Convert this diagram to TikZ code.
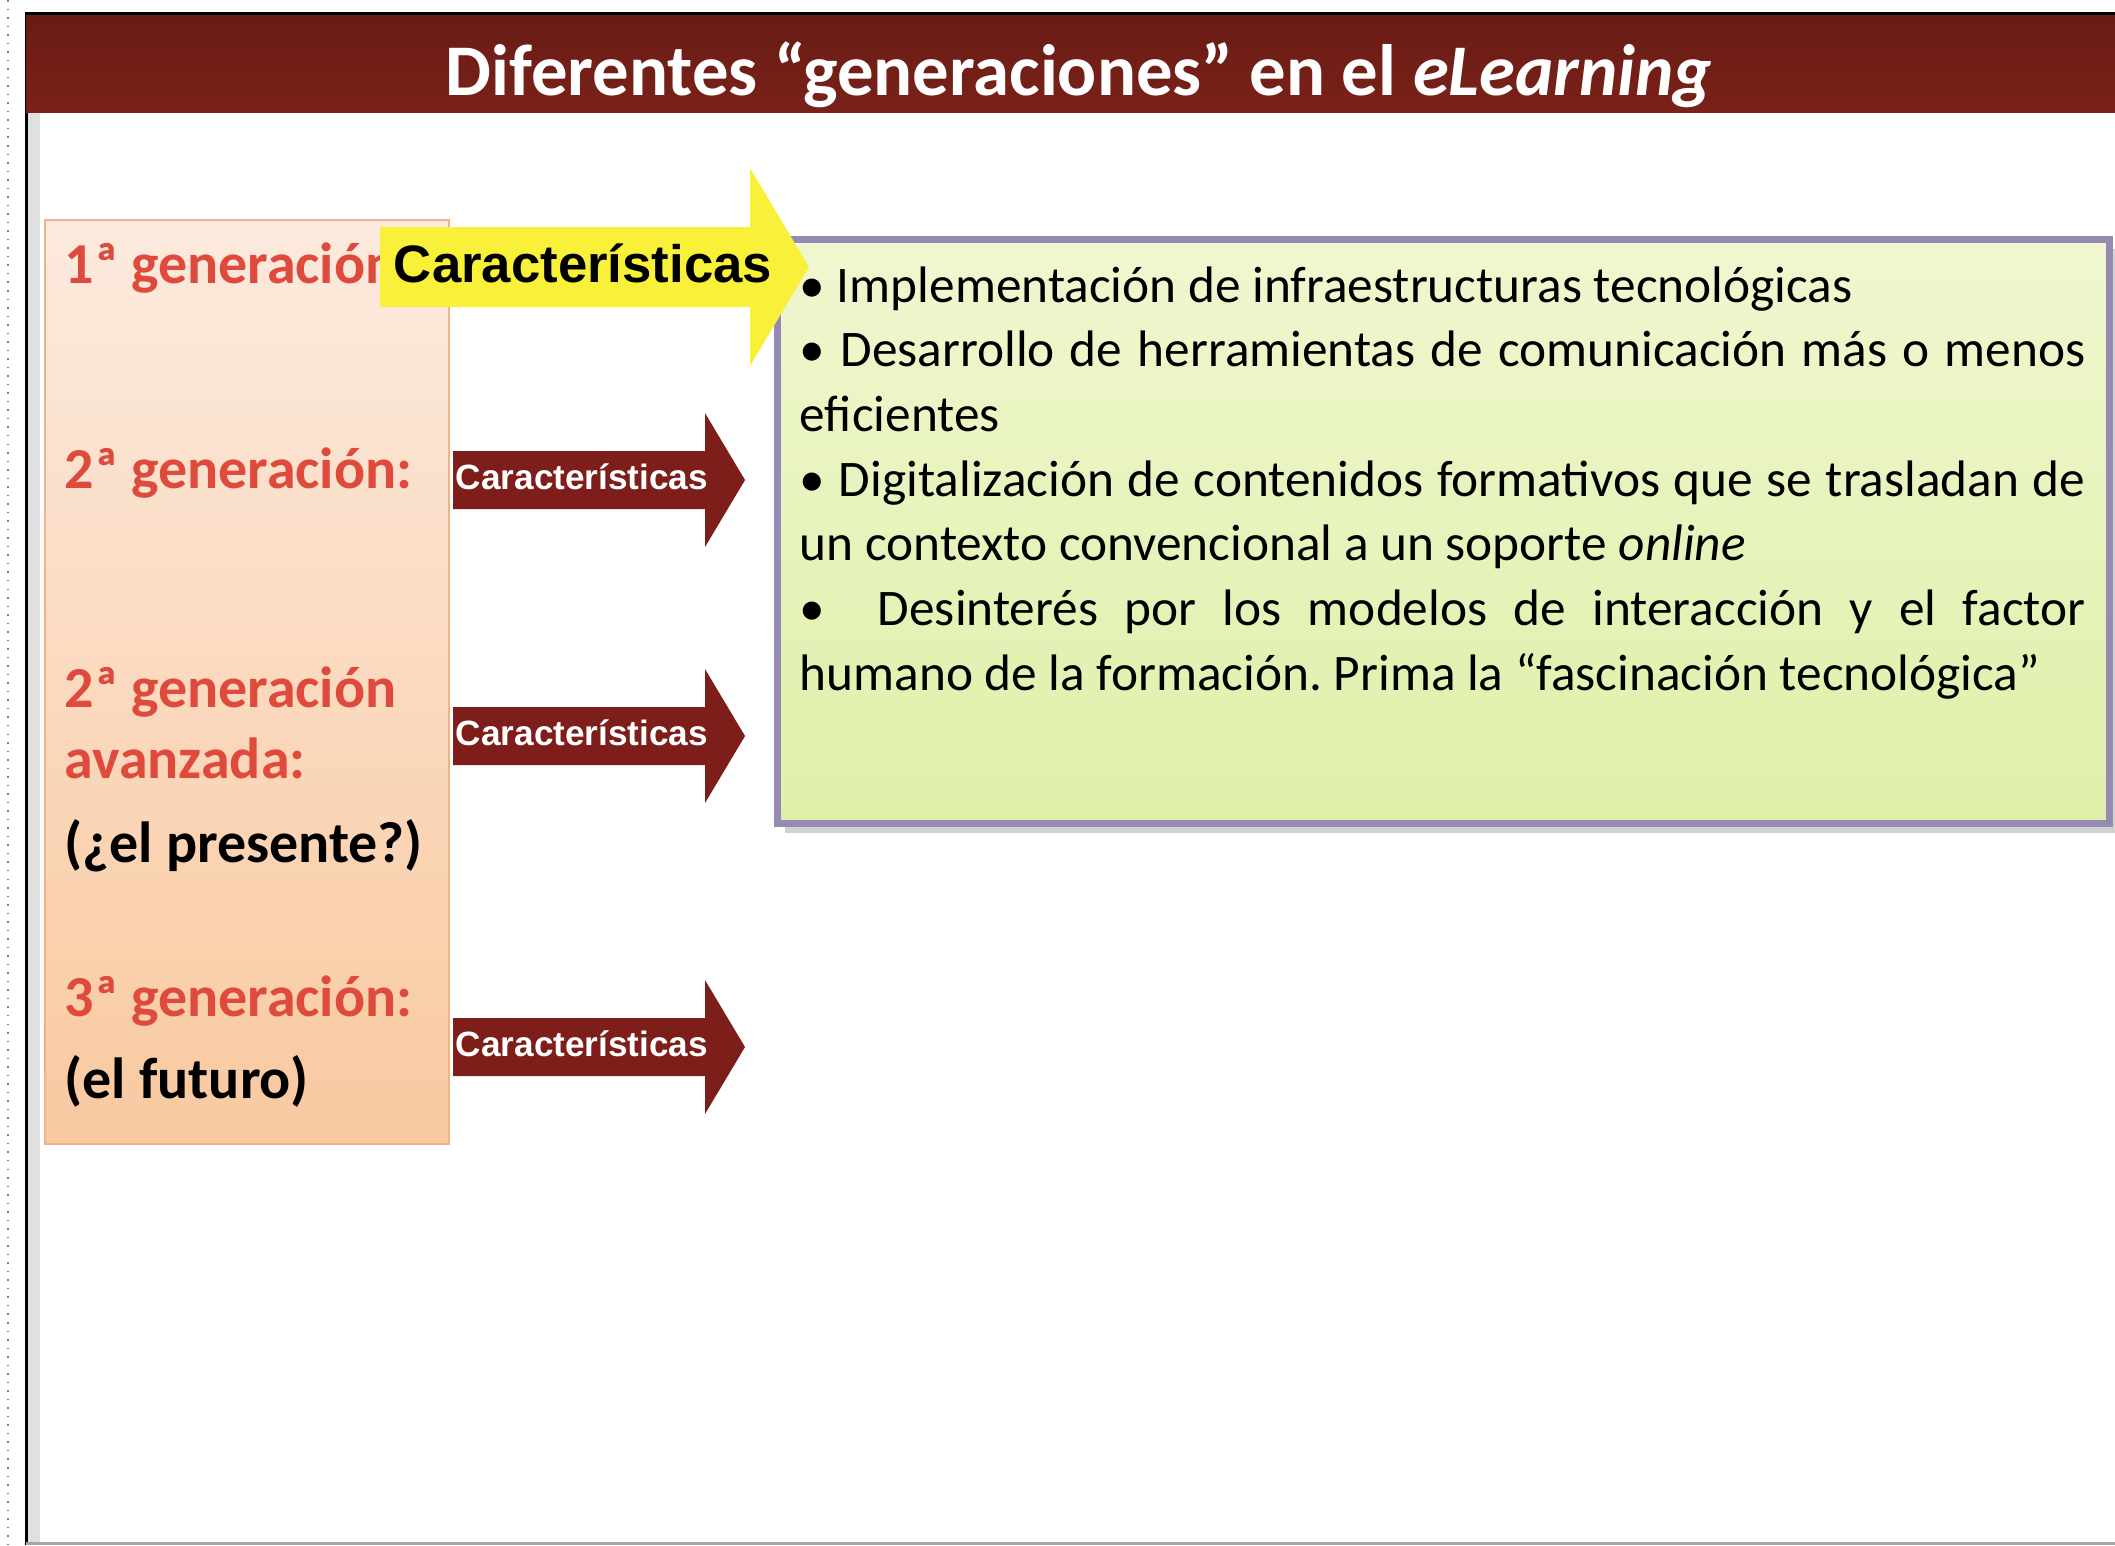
\documentclass[tikz,border=0pt]{standalone}
\usepackage{fontspec}
\setmainfont{Carlito}
\newfontfamily\arialfont{Liberation Sans}
\usetikzlibrary{shapes}

\definecolor{titlered}{RGB}{122,33,25}
\definecolor{arrowred}{RGB}{125,30,26}
\definecolor{genred}{RGB}{222,74,60}
\definecolor{peachtop}{RGB}{252,234,222}
\definecolor{peachbot}{RGB}{249,201,160}
\definecolor{peachline}{RGB}{238,180,135}
\definecolor{greentop}{RGB}{240,247,208}
\definecolor{greenbot}{RGB}{221,240,168}
\definecolor{lavender}{RGB}{150,138,180}
\definecolor{hiyellow}{RGB}{249,240,58}

\begin{document}
\begin{tikzpicture}[x=0.1mm, y=-0.1mm,
  gen/.style={anchor=base west, inner sep=0, text=genred, font=\fontsize{16.5}{20.2}\selectfont\bfseries},
  note/.style={anchor=base west, inner sep=0, font=\fontsize{16.5}{20.2}\selectfont\bfseries},
  caract/.style={anchor=base, inner sep=0, text=white, font=\arialfont\fontsize{10}{12}\selectfont\bfseries}]
\useasboundingbox (0,0) rectangle (2115,1545);
% slide frame
\draw[gray, dotted, line width=0.15mm] (8,0) -- (8,1545);
\fill[black!12] (27,12) rectangle (40,1545);
\draw[line width=0.3mm] (26,12) -- (26,1545);
\draw[black!35, line width=0.3mm] (26,1543) -- (2115,1543);
% title
\shade[top color=titlered!85!black, bottom color=titlered] (26,13) rectangle (2115,112);
\draw[line width=0.3mm] (26,13) -- (2115,13);
\node[anchor=base, text=white, inner sep=0, font=\fontsize{20.7}{25}\selectfont\bfseries] (title) at (1079,95) {Diferentes “generaciones” en el \textit{eLearning}};
% generations
\shade[top color=peachtop, bottom color=peachbot, draw=peachline, line width=0.15mm] (45,220) rectangle (449,1144);
\node[gen] (g1) at (64,283) {1ª generación:};
\node[gen] (g2) at (64,488) {2ª generación:};
\node[gen] (g3) at (64,707) {2ª generación};
\node[gen] (g3b) at (64,778) {avanzada:};
\node[note] (p3) at (64,862) {(¿el presente?)};
\node[gen] (g4) at (64,1016) {3ª generación:};
\node[note] (p4) at (64,1098) {(el futuro)};
% features box
\fill[black!30, opacity=0.6] (785,249) rectangle (2115,833);
\shade[top color=greentop, bottom color=greenbot, draw=lavender, line width=0.7mm] (777,239) rectangle (2109,823);
\node[anchor=base west, inner sep=0, text width=128.6mm, align=justify, font=\fontsize{14.6}{18.4}\selectfont\frenchspacing] (rasgos) at (799,302) {%
• Implementación de infraestructuras tecnológicas\par
• Desarrollo de herramientas de comunicación más o menos\linebreak eficientes\par
• Digitalización de contenidos formativos que se trasladan de\linebreak un contexto convencional a un soporte \textit{online}\par
• \ Desinterés por los modelos de interacción y el factor\linebreak humano de la formación. Prima la “fascinación tecnológica”\par};
% arrows
\fill[arrowred] (453,451) -- (705,451) -- (705,413) -- (745,480) -- (705,547) -- (705,509) -- (453,509) -- cycle;
\node[caract] (c2) at (582,489) {Características};
\fill[arrowred] (453,707) -- (705,707) -- (705,669) -- (745,736) -- (705,803) -- (705,765) -- (453,765) -- cycle;
\node[caract] (c3) at (582,745) {Características};
\fill[arrowred] (453,1018) -- (705,1018) -- (705,980) -- (745,1047) -- (705,1114) -- (705,1076) -- (453,1076) -- cycle;
\node[caract] (c4) at (582,1056) {Características};
\fill[hiyellow] (380,227) -- (750,227) -- (750,168) -- (809,267) -- (750,366) -- (750,307) -- (380,307) -- cycle;
\node[anchor=base, inner sep=0, font=\arialfont\fontsize{15}{18}\selectfont\bfseries] (c1) at (583,282) {Características};
\end{tikzpicture}
\end{document}
